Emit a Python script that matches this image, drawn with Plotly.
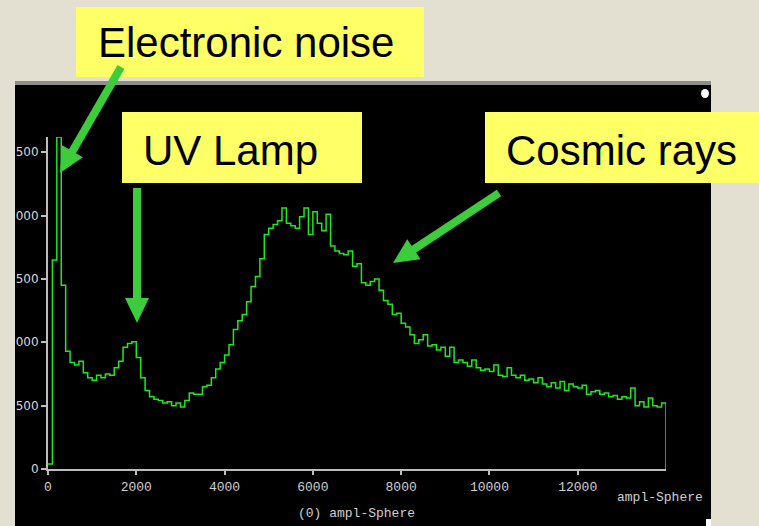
import plotly.graph_objects as go

W, H = 759, 526
BIN_WIDTH = 100

# histogram counts, one per 100-unit bin of ampl-Sphere (0 .. 14000)
counts = [
    40, 1650, 2620, 1450, 930, 840, 820, 850, 760, 720,
    700, 740, 720, 750, 740, 800, 850, 960, 990, 1005,
    880, 720, 620, 570, 550, 540, 520, 530, 500, 520,
    490, 540, 600, 590, 590, 650, 660, 720, 790, 840,
    900, 980, 1100, 1170, 1220, 1320, 1440, 1520, 1660, 1850,
    1900, 1930, 1960, 2060, 1940, 1920, 1900, 1990, 2060, 1850,
    2030, 1940, 1880, 2010, 1760, 1720, 1700, 1690, 1720, 1600,
    1620, 1470, 1450, 1480, 1500, 1410, 1330, 1300, 1220, 1230,
    1150, 1120, 1060, 990, 1020, 1060, 970, 980, 940, 960,
    890, 960, 840, 860, 840, 810, 860, 800, 780, 790,
    770, 820, 740, 730, 800, 740, 720, 740, 700, 710,
    680, 720, 670, 650, 680, 640, 690, 620, 670, 650,
    640, 660, 590, 610, 620, 590, 600, 570, 580, 550,
    570, 560, 640, 500, 530, 490, 560, 500, 490, 520,
]
x_ticks = [0, 2000, 4000, 6000, 8000, 10000, 12000]
y_ticks = [0, 500, 1000, 1500, 2000, 2500]
y_range = [0, 2620]
x_title = "ampl-Sphere"
bottom_title = "(0) ampl-Sphere"
callouts = ["Electronic noise", "UV Lamp", "Cosmic rays"]

edges = [i * BIN_WIDTH for i in range(len(counts) + 1)]
xs = edges[:-1] + [edges[-1], edges[-1]]
ys = counts + [counts[-1], 0]

BEIGE = "#e3e0d1"
YELLOW = "#ffff66"
ARROW = "#3ccc3c"
LINE_GREEN = "#1ee81e"
AXIS_GRAY = "#bdbdbd"


def px(x):
    return x / W


def py(y):
    return 1 - y / H


fig = go.Figure()
fig.add_trace(go.Scatter(
    x=xs, y=ys, mode="lines", line=dict(color=LINE_GREEN, width=1.5, shape="hv"),
    hoverinfo="skip", showlegend=False,
))

shapes = []
# black display panel
shapes.append(dict(type="rect", xref="paper", yref="paper", layer="below",
                   x0=px(15), x1=px(711), y0=py(526), y1=py(84),
                   fillcolor="black", line=dict(width=0)))
shapes.append(dict(type="rect", xref="paper", yref="paper", layer="below",
                   x0=px(15), x1=px(711), y0=py(85), y1=py(81),
                   fillcolor="#8e8e8e", line=dict(width=0)))
# beige strip hiding the leading digits of y tick labels
shapes.append(dict(type="rect", xref="paper", yref="paper", layer="above",
                   x0=px(0), x1=px(15), y0=py(526), y1=py(84),
                   fillcolor=BEIGE, line=dict(width=0)))
# small white marks on the panel
shapes.append(dict(type="circle", xref="paper", yref="paper", layer="above",
                   x0=px(701), x1=px(709), y0=py(98), y1=py(89),
                   fillcolor="white", line=dict(width=0)))
shapes.append(dict(type="rect", xref="paper", yref="paper", layer="above",
                   x0=px(706), x1=px(711), y0=py(526), y1=py(519),
                   fillcolor="white", line=dict(width=0)))

# yellow callout boxes
boxes = [(76, 424, 7, 77), (122, 362, 112, 183), (485, 759, 112, 183)]
for (x0, x1, y0, y1) in boxes:
    shapes.append(dict(type="rect", xref="paper", yref="paper", layer="above",
                       x0=px(x0), x1=px(x1), y0=py(y1), y1=py(y0),
                       fillcolor=YELLOW, line=dict(width=0)))


def arrow(x_start, y_start, x_tip, y_tip, head_len=25, half_w=12, width=8):
    dx, dy = x_tip - x_start, y_tip - y_start
    L = (dx * dx + dy * dy) ** 0.5
    ux, uy = dx / L, dy / L
    bx, by = x_tip - head_len * ux, y_tip - head_len * uy
    nx, ny = -uy, ux
    out = [dict(type="line", xref="paper", yref="paper", layer="above",
                x0=px(x_start), y0=py(y_start), x1=px(bx + 2 * ux), y1=py(by + 2 * uy),
                line=dict(color=ARROW, width=width))]
    p1 = (bx + half_w * nx, by + half_w * ny)
    p2 = (bx - half_w * nx, by - half_w * ny)
    path = "M {} {} L {} {} L {} {} Z".format(
        px(x_tip), py(y_tip), px(p1[0]), py(p1[1]), px(p2[0]), py(p2[1]))
    out.append(dict(type="path", xref="paper", yref="paper", layer="above",
                    path=path, fillcolor=ARROW, line=dict(width=0)))
    return out


shapes += arrow(121, 67, 60, 173)
shapes += arrow(137, 188, 137, 323)
shapes += arrow(499, 193, 393, 263)

annotations = []
text_pos = [(246, 43), (230, 150), (621, 150)]
for txt, (x, y) in zip(callouts, text_pos):
    annotations.append(dict(text=txt, xref="paper", yref="paper", x=px(x), y=py(y),
                            xanchor="center", yanchor="middle", showarrow=False,
                            font=dict(family="Liberation Sans, Arial", size=42, color="black")))
annotations.append(dict(text=x_title, xref="paper", yref="paper", x=px(705), y=py(497),
                        xanchor="right", yanchor="middle", showarrow=False,
                        font=dict(family="Liberation Mono, Courier New", size=13, color="#d0d0d0")))
annotations.append(dict(text=bottom_title, xref="paper", yref="paper", x=px(356), y=py(513),
                        xanchor="center", yanchor="middle", showarrow=False,
                        font=dict(family="Liberation Mono, Courier New", size=13, color="#d0d0d0")))

fig.update_layout(
    width=W, height=H, margin=dict(l=0, r=0, t=0, b=0, pad=0, autoexpand=False),
    paper_bgcolor=BEIGE, plot_bgcolor="black",
    showlegend=False,
    xaxis=dict(domain=[px(48), px(666)], range=[0, len(counts) * BIN_WIDTH], automargin=False,
               showgrid=False, zeroline=False, showline=True, linecolor=AXIS_GRAY, linewidth=2,
               ticks="outside", ticklen=4, tickwidth=1.5, tickcolor=AXIS_GRAY,
               tickvals=x_ticks, ticktext=[str(v) for v in x_ticks],
               tickfont=dict(family="Liberation Mono, Courier New", size=13, color="#d0d0d0")),
    yaxis=dict(domain=[py(469), py(137)], range=y_range, automargin=False,
               showgrid=False, zeroline=False, showline=True, linecolor=AXIS_GRAY, linewidth=2,
               ticks="outside", ticklen=5, tickwidth=1.5, tickcolor=AXIS_GRAY,
               tickvals=y_ticks, ticktext=[str(v) for v in y_ticks],
               tickfont=dict(family="DejaVu Sans", size=12, color="#d8d8d8")),
    shapes=shapes, annotations=annotations,
)

fig.write_html("out.html")
